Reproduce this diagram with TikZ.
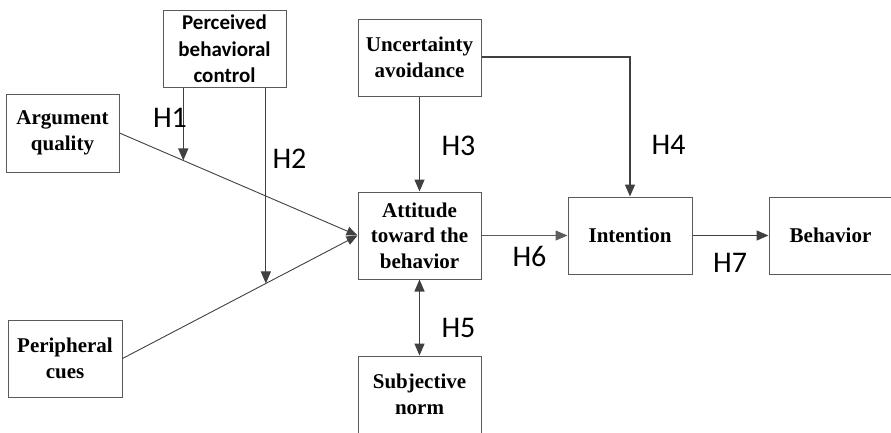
\documentclass[tikz,border=0pt]{standalone}
\usepackage{fontspec}
\setmainfont{Liberation Serif}
\newfontfamily\calfont{Carlito}
\usetikzlibrary{arrows.meta,calc}
\definecolor{boxgray}{HTML}{5A5A5A}
\definecolor{linegray}{HTML}{404040}
\tikzstyle{construct}=[rectangle,draw=boxgray,line width=1pt,inner sep=0pt,align=center,minimum width=123pt,minimum height=77pt,font=\fontsize{21}{25.5}\selectfont\bfseries]
\tikzstyle{constructsans}=[construct,font=\calfont\fontsize{21}{26.5}\selectfont\bfseries]
\tikzstyle{hyp}=[inner sep=0pt,font=\calfont\fontsize{30}{36}\selectfont]
\tikzstyle{link}=[draw=linegray,line width=0.9pt,-{Triangle[length=11pt,width=9pt]}]
\tikzstyle{arr}=[draw=linegray,line width=1.4pt,-{Triangle[length=12pt,width=10pt]}]

\begin{document}
\begin{tikzpicture}[x=1pt,y=-1pt]
\useasboundingbox (0,0) rectangle (891,432);
\node[construct, minimum width=113pt, minimum height=78pt] (argq) at (62.5,133) {Argument\\quality};
\node[constructsans] (pbc) at (224.5,49) {Perceived\\behavioral\\control};
\node[construct, minimum width=114pt] (perc) at (65,358.5) {Peripheral\\cues};
\node[construct] (unc) at (419.5,57.5) {Uncertainty\\avoidance};
\node[construct, minimum height=87pt] (att) at (419.5,235.5) {Attitude\\toward the\\behavior};
\node[construct] (subj) at (419.5,394.5) {Subjective\\norm};
\node[construct, minimum width=124pt] (int) at (630,235.5) {Intention};
\node[construct] (beh) at (830.5,235.5) {Behavior};
\coordinate (h1end) at ($(argq.east)!0.268!(att.west)$);
\coordinate (h2end) at ($(perc.east)!0.610!(att.west)$);
\draw[link] (argq.east) -- (att.west);
\draw[link] (perc.east) -- (att.west);
\draw[arr] (h1end |- pbc.south) -- (h1end);
\draw[arr, line width=1pt] (h2end |- pbc.south) -- (h2end);
\draw[arr] (unc.south) -- (att.north);
\draw[arr] ([yshift=0.5pt]unc.east) -| (int.north);
\draw[arr, {Triangle[length=12pt,width=10pt]}-{Triangle[length=12pt,width=10pt]}] (att.south) -- (subj.north);
\draw[arr, line width=1.1pt, draw=linegray!85] (att.east) -- (int.west);
\draw[arr] (int.east) -- (beh.west);
\node[hyp] (lh1) at (170,117.5) {H1};
\node[hyp] (lh2) at (289.5,159) {H2};
\node[hyp] (lh3) at (458.5,145.5) {H3};
\node[hyp] (lh4) at (668.5,145) {H4};
\node[hyp] (lh5) at (458.5,327.5) {H5};
\node[hyp] (lh6) at (529.5,256) {H6};
\node[hyp] (lh7) at (730,262.5) {H7};
\end{tikzpicture}
\end{document}
